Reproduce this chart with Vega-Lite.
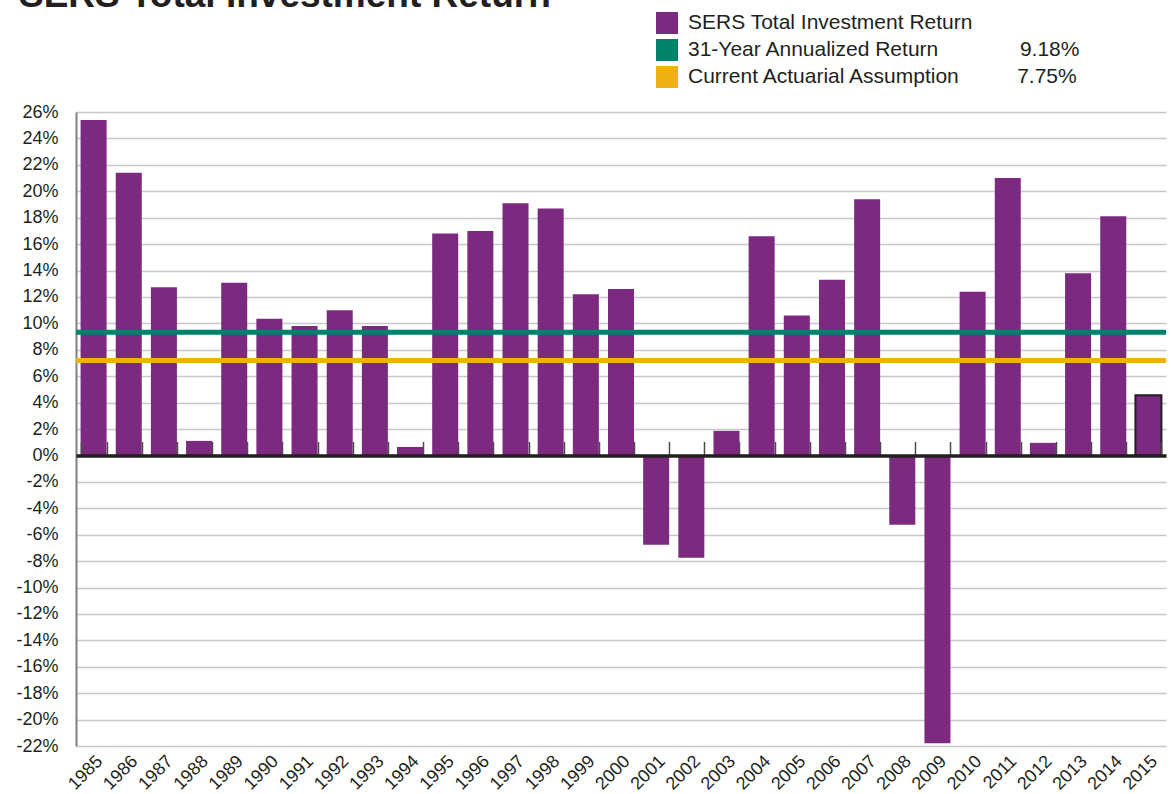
{
  "$schema": "https://vega.github.io/schema/vega-lite/v6.json",
  "width": 1090,
  "height": 634,
  "autosize": {"type": "none"},
  "padding": {"left": 76, "top": 112, "right": 5, "bottom": 48},
  "background": "white",
  "title": {
    "text": "SERS Total Investment Return",
    "anchor": "start",
    "fontSize": 37,
    "fontWeight": "bold",
    "font": "Liberation Sans",
    "color": "#231f20",
    "dx": 3,
    "dy": 32,
    "baseline": "alphabetic",
    "offset": 0
  },
  "config": {
    "font": "Liberation Sans",
    "view": {"stroke": null},
    "axis": {"labelFont": "Liberation Sans", "labelColor": "#231f20"},
    "axisY": {"labelOverlap": false}
  },
  "datasets": {
    "returns": [
      {"year": "1985", "value": 25.4},
      {"year": "1986", "value": 21.4},
      {"year": "1987", "value": 12.74},
      {"year": "1988", "value": 1.1},
      {"year": "1989", "value": 13.07},
      {"year": "1990", "value": 10.34},
      {"year": "1991", "value": 9.8},
      {"year": "1992", "value": 11.0},
      {"year": "1993", "value": 9.8},
      {"year": "1994", "value": 0.64},
      {"year": "1995", "value": 16.8},
      {"year": "1996", "value": 17.0},
      {"year": "1997", "value": 19.1},
      {"year": "1998", "value": 18.7},
      {"year": "1999", "value": 12.2},
      {"year": "2000", "value": 12.6},
      {"year": "2001", "value": -6.76},
      {"year": "2002", "value": -7.74},
      {"year": "2003", "value": 1.86},
      {"year": "2004", "value": 16.6},
      {"year": "2005", "value": 10.6},
      {"year": "2006", "value": 13.3},
      {"year": "2007", "value": 19.4},
      {"year": "2008", "value": -5.24},
      {"year": "2009", "value": -21.8},
      {"year": "2010", "value": 12.4},
      {"year": "2011", "value": 21.0},
      {"year": "2012", "value": 0.95},
      {"year": "2013", "value": 13.8},
      {"year": "2014", "value": 18.1},
      {"year": "2015", "value": 4.56}
    ],
    "benchmarks": [
      {"series": "31-Year Annualized Return", "value": 9.32},
      {"series": "Current Actuarial Assumption", "value": 7.18}
    ]
  },
  "resolve": {"axis": {"x": "independent"}},
  "encoding": {
    "y": {
      "field": "value",
      "type": "quantitative",
      "scale": {"domain": [-22, 26], "nice": false, "zero": false},
      "axis": {
        "values": [-22, -20, -18, -16, -14, -12, -10, -8, -6, -4, -2, 0, 2, 4, 6, 8, 10, 12, 14, 16, 18, 20, 22, 24, 26],
        "tickCount": 25,
        "labelExpr": "datum.value + '%'",
        "labelOverlap": false,
        "grid": true,
        "gridColor": "#c8c8c8",
        "gridWidth": 1.5,
        "domainColor": "#808080",
        "domainWidth": 2,
        "ticks": false,
        "labelFontSize": 18,
        "labelPadding": 18,
        "title": null
      }
    }
  },
  "layer": [
    {
      "data": {"name": "returns"},
      "mark": {"type": "bar"},
      "encoding": {
        "x": {
          "field": "year",
          "type": "ordinal",
          "scale": {"paddingInner": 0.26, "paddingOuter": 0.13},
          "axis": {
            "orient": "bottom",
            "domain": false,
            "ticks": false,
            "grid": false,
            "labelAngle": -45,
            "labelFontSize": 18,
            "labelPadding": 6,
            "title": null
          }
        },
        "color": {
          "datum": "SERS Total Investment Return",
          "type": "nominal",
          "scale": {
            "domain": ["SERS Total Investment Return", "31-Year Annualized Return", "Current Actuarial Assumption"],
            "range": ["#7b2a80", "#00826a", "#eeb111"]
          },
          "legend": {
            "orient": "none",
            "legendX": 580,
            "legendY": -100,
            "title": null,
            "symbolType": "square",
            "symbolSize": 484,
            "symbolStrokeWidth": 0,
            "symbolOpacity": 1,
            "labelFontSize": 21,
            "labelFont": "Liberation Sans",
            "labelColor": "#231f20",
            "rowPadding": 5,
            "labelOffset": 10,
            "padding": 0,
            "labelLimit": 700,
            "labelExpr": "datum.label == '31-Year Annualized Return' ? datum.label + '\u00a0\u00a0\u00a0\u00a0\u00a0\u00a0\u00a0\u00a0\u00a0\u00a0\u00a0\u00a0\u00a0\u00a09.18%' : datum.label == 'Current Actuarial Assumption' ? datum.label + '\u00a0\u00a0\u00a0\u00a0\u00a0\u00a0\u00a0\u00a0\u00a0\u00a07.75%' : datum.label"
          }
        }
      }
    },
    {
      "data": {"name": "benchmarks"},
      "mark": {"type": "rule", "strokeWidth": 5},
      "encoding": {
        "stroke": {
          "field": "series",
          "type": "nominal",
          "scale": {
            "domain": ["31-Year Annualized Return", "Current Actuarial Assumption"],
            "range": ["#00826a", "#eeb111"]
          },
          "legend": null
        }
      }
    },
    {
      "data": {"name": "returns"},
      "transform": [{"filter": "datum.year == '2015'"}],
      "mark": {"type": "bar", "fill": "#7b2a80", "stroke": "#231f20", "strokeWidth": 2},
      "encoding": {
        "x": {
          "field": "year",
          "type": "ordinal",
          "axis": {
            "orient": "top",
            "offset": {"expr": "-scale('y', 0)"},
            "labels": false,
            "domainColor": "#231f20",
            "domainWidth": 3.5,
            "tickBand": "extent",
            "ticks": true,
            "tickSize": 14,
            "tickColor": "#4d4d4d",
            "tickWidth": 1.5,
            "grid": false,
            "title": null,
            "zindex": 1
          }
        }
      }
    }
  ]
}
